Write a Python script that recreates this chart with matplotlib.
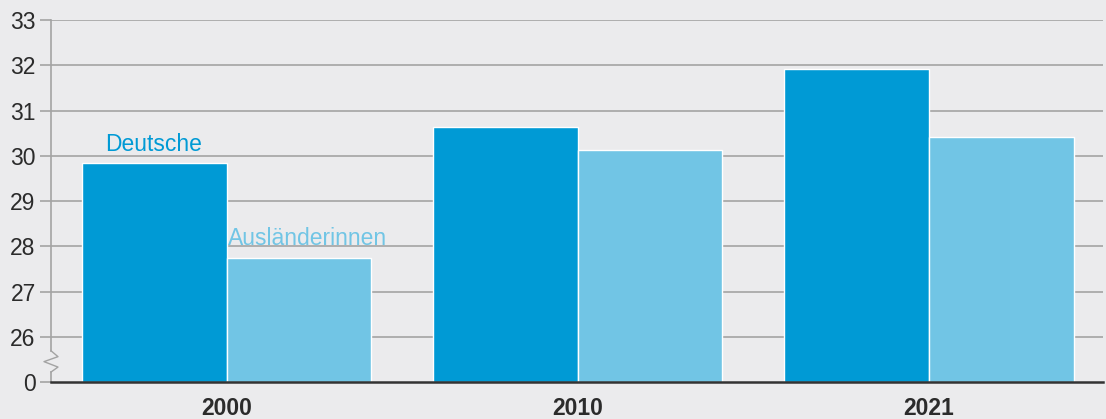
import numpy as np
import matplotlib
matplotlib.use("Agg")
import matplotlib.pyplot as plt
import matplotlib.transforms as mtransforms

# Daten
jahre = ["2000", "2010", "2021"]
deutsche = [29.84, 30.63, 31.91]
auslaenderinnen = [27.73, 30.13, 30.41]
serien = ["Deutsche", "Ausländerinnen"]
y_ticks = [0, 26, 27, 28, 29, 30, 31, 32, 33]

# Achsenbruch: 0 liegt eine Einheit unter 26
BASIS = 25

FARBE_D = "#009ad5"
FARBE_A = "#71c5e5"
HINTERGRUND = "#ebebed"
GITTER = "#a3a3a3"
TEXT = "#2b2b2b"

plt.rcParams["font.family"] = ["Liberation Sans", "DejaVu Sans"]

fig = plt.figure(figsize=(11.06, 4.19), dpi=100, facecolor=HINTERGRUND)
ax = fig.add_axes([51 / 1106, 37 / 419, 1052 / 1106, 362 / 419])
ax.set_facecolor(HINTERGRUND)

x = np.arange(len(jahre))
breite = 0.413

def umrechnen(werte):
    return [v - BASIS for v in werte]

ax.bar(x - breite / 2, umrechnen(deutsche), breite, color=FARBE_D,
       edgecolor="white", linewidth=1.0, zorder=3)
ax.bar(x + breite / 2, umrechnen(auslaenderinnen), breite, color=FARBE_A,
       edgecolor="white", linewidth=1.0, zorder=3)

ax.set_xlim(-0.5, 2.497)
ax.set_ylim(0, 8)

pos = [0] + [t - BASIS for t in y_ticks[1:]]
ax.set_yticks(pos)
ax.set_yticklabels([str(t) for t in y_ticks], fontsize=16.5, color=TEXT)
ax.tick_params(axis="y", length=8, width=1.2, color=GITTER, pad=3)
for p in pos[1:]:
    ax.axhline(p, color=GITTER, linewidth=1.2, zorder=1)

ax.set_xticks(x)
ax.set_xticklabels(jahre, fontsize=16.5, fontweight="bold", color=TEXT)
ax.tick_params(axis="x", length=0, pad=10.5)

for s in ["top", "right", "left"]:
    ax.spines[s].set_visible(False)
ax.spines["bottom"].set_color("#333333")
ax.spines["bottom"].set_linewidth(1.8)
ax.spines["bottom"].set_zorder(4)

# linke Achse mit Bruchzeichen
trans = mtransforms.blended_transform_factory(ax.transAxes, ax.transData)
dx = 7 / 1052
ax.plot([0, 0], [0.69, 8], color=GITTER, lw=1.2, transform=trans, clip_on=False)
ax.plot([0, 0], [0, 0.22], color=GITTER, lw=1.2, transform=trans, clip_on=False)
zx = [0, dx, -dx, dx, 0]
zy = [0.69, 0.56, 0.45, 0.33, 0.22]
ax.plot(zx, zy, color=GITTER, lw=1.0, transform=trans, clip_on=False)

# Serienbeschriftungen
ax.text(x[0] - breite / 2, deutsche[0] - BASIS + 0.27, serien[0], color=FARBE_D,
        fontsize=16.5, ha="center", va="baseline")
ax.text(x[0] + breite / 2 + 0.025, auslaenderinnen[0] - BASIS + 0.29, serien[1],
        color=FARBE_A, fontsize=16.5, ha="center", va="baseline")

fig.savefig("out.png", dpi=100, facecolor=HINTERGRUND)
